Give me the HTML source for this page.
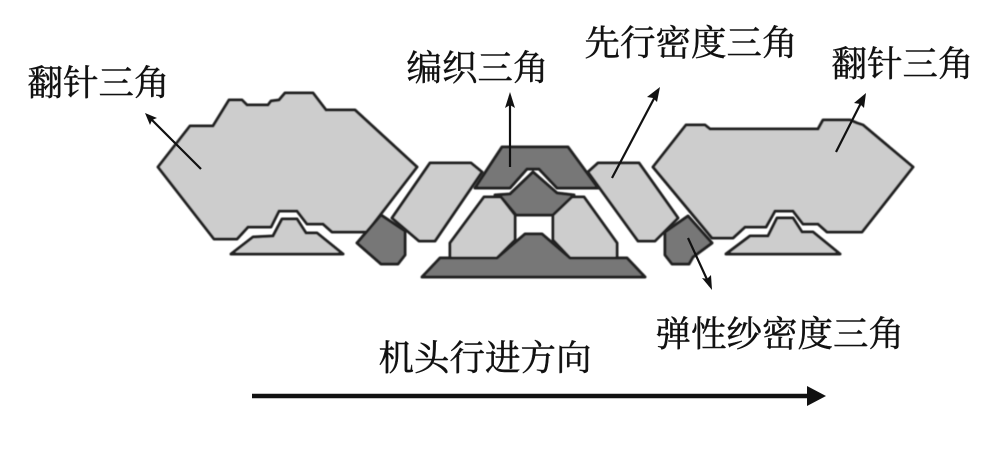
<!DOCTYPE html>
<html lang="zh">
<head>
<meta charset="utf-8">
<style>
html,body{margin:0;padding:0;background:#fff;width:1000px;height:465px;overflow:hidden}
svg{display:block}
text{font-family:"Liberation Serif","Noto Serif CJK SC",serif;font-size:35.5px;fill:#111;stroke:#111;stroke-width:.45}
.l{fill:#cdcdcd;stroke:#222;stroke-width:3;stroke-linejoin:round}
.d{fill:#777;stroke:#222;stroke-width:3;stroke-linejoin:round}
.a{stroke:#111;stroke-width:2.2;fill:none}
.h{fill:#111}
</style>
</head>
<body>
<svg width="1000" height="465" viewBox="0 0 1000 465" xmlns="http://www.w3.org/2000/svg">
<defs><filter id="b" x="-5%" y="-5%" width="110%" height="110%"><feGaussianBlur stdDeviation="0.6"/></filter></defs>
<g filter="url(#b)">
<polygon class="l" points="158,167 190,126 213,126 229,100 242,100 247,105 268,105 271,101 279,100 285,93 313,93 326,110 355,110 417,167 367,232 332,232 323,224 307,224 297,211 279,211 271,227 248,227 237,239 214,239"/>
<polygon class="l" points="231,254 253,237 273,236 282,219 297,219 306,233 317,233 343,254"/>
<polygon class="d" points="381,215 405,231 405,255 398,264 381,264 357,243"/>
<polygon class="l" points="392,218 430,163 471,163 482,172 435,241 419,241"/>
<polygon class="l" points="588,172 598,163 639,163 678,218 655,241 638,241"/>
<polygon class="d" points="502,147 568,147 598,188 557,188 539,169 527,169 510,188 475,188"/>
<polygon class="l" points="484,197 501,197 515,215 515,240 497,258 450,258 450,243"/>
<polygon class="l" points="584,197 568,197 553,215 553,240 570,258 617,258 617,243"/>
<polygon class="d" points="533,172 557,193 574,195 553,215 516,215 501,197 495,195 510,194"/>
<polygon class="d" points="422,277 440,258 497,258 525,234 542,234 570,258 627,258 645,277"/>
<polygon class="l" points="653,167 686,125 705,125 710,129 818,129 823,120 850,120 857,123 863,125 913,167 862,232 827,232 818,224 803,224 793,211 775,211 766,227 745,227 733,238 712,238"/>
<polygon class="l" points="726,254 750,236 768,236 777,218 793,218 802,232 813,232 840,254"/>
<polygon class="d" points="688,216 712,243 693,257 689,264 672,264 665,255 665,232"/>
</g>
<g>
<line class="a" x1="201" y1="169" x2="148" y2="116"/>
<polygon class="h" points="145,113 157,118 152,120 150,125"/>
<line class="a" x1="510" y1="167" x2="510" y2="96"/>
<polygon class="h" points="510,92 515,108 510,105 505,108"/>
<line class="a" x1="612" y1="178" x2="658" y2="91"/>
<polygon class="h" points="660,87 657,102 653,98 647,97"/>
<line class="a" x1="836" y1="152" x2="864" y2="97"/>
<polygon class="h" points="866,93 864,108 860,104 854,103"/>
<line class="a" x1="688" y1="238" x2="710" y2="286"/>
<polygon class="h" points="712,290 702,278 707,279 711,275"/>
<line x1="252" y1="396" x2="812" y2="396" stroke="#111" stroke-width="4.5"/>
<polygon class="h" points="807,386 826,396 807,406"/>
</g>
<text x="27.5" y="95">翻针三角</text>
<text x="406.5" y="80">编织三角</text>
<text x="584.5" y="55">先行密度三角</text>
<text x="831.5" y="76">翻针三角</text>
<text x="655.5" y="346">弹性纱密度三角</text>
<text x="378.5" y="370">机头行进方向</text>
</svg>
</body>
</html>
